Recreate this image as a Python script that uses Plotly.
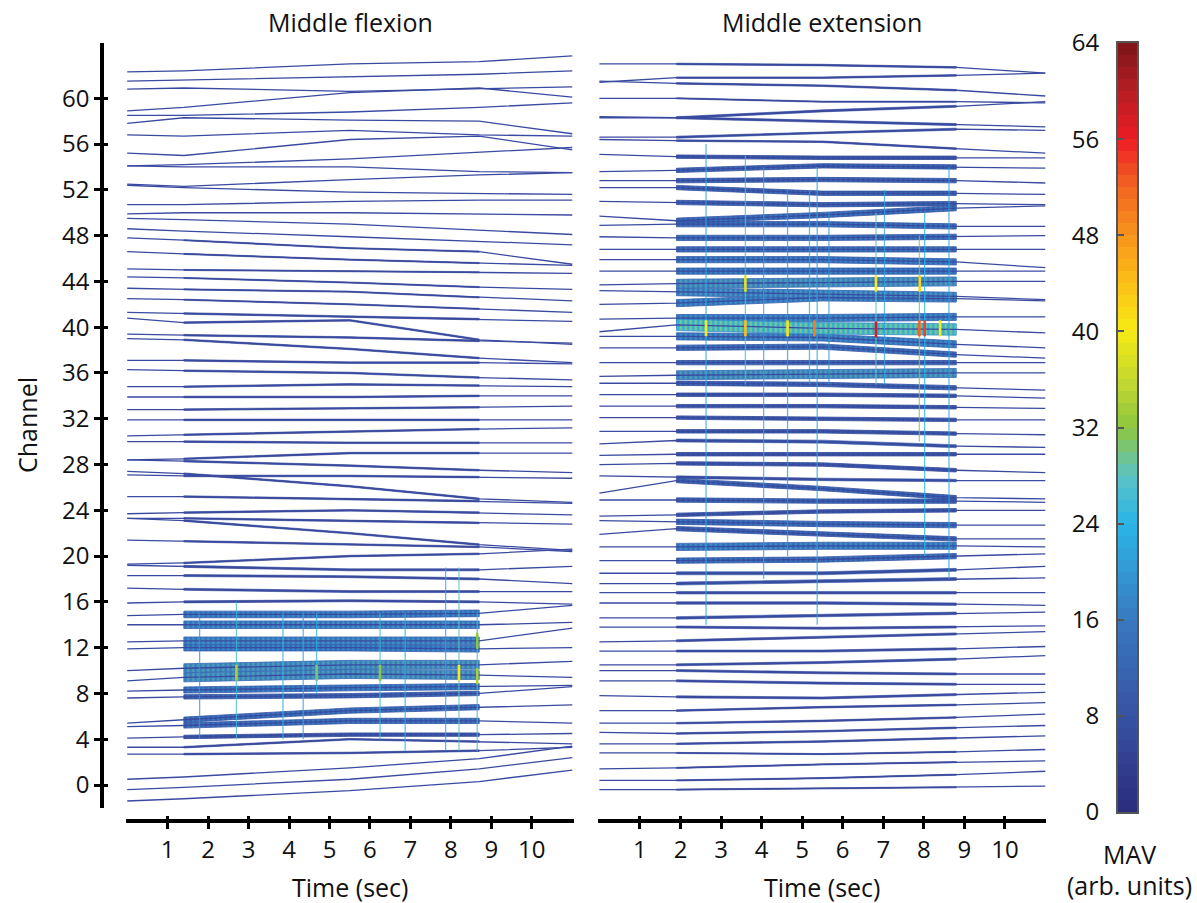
import plotly.graph_objects as go
from plotly.colors import sample_colorscale

W, H = 1197, 903

# ---------------- data ----------------
CHANNEL_TICKS = list(range(0, 61, 4))
TIME_TICKS = list(range(1, 11))
MAV_TICKS = list(range(0, 65, 8))
MAV_STEPS = [i + 0.5 for i in range(64)]

# Middle flexion: baseline of each trace at knot times (channel units), top to bottom
FLEX_KNOT_T = [0, 1.4, 5.5, 8.7, 11]
FLEX_BASE = [
    [62.3, 62.4, 63.0, 63.2, 63.7], [61.5, 61.6, 61.9, 62.1, 62.4], [60.8, 60.9, 60.6, 60.8, 61.0],
    [58.9, 59.2, 60.5, 60.9, 60.1], [58.5, 58.5, 58.8, 59.2, 59.6], [57.8, 58.3, 58.1, 58.0, 56.9],
    [56.8, 56.7, 57.2, 56.8, 56.7], [55.2, 55.0, 56.4, 56.7, 55.5], [54.1, 54.2, 54.7, 55.3, 55.7],
    [54.1, 54.0, 54.0, 53.6, 53.5], [52.5, 52.3, 52.9, 53.3, 53.5], [52.4, 52.2, 51.8, 51.7, 51.6],
    [50.7, 50.7, 51.0, 51.1, 51.1], [49.9, 50.0, 50.0, 49.9, 49.8], [49.5, 49.4, 49.0, 48.5, 48.1],
    [48.6, 48.4, 47.9, 47.5, 47.2], [47.8, 47.6, 46.9, 46.6, 45.5], [46.6, 46.4, 45.9, 45.6, 45.4],
    [45.1, 45.0, 44.9, 44.8, 44.7], [44.4, 44.3, 43.9, 43.5, 43.3], [43.4, 43.3, 43.1, 42.6, 42.3],
    [42.5, 42.4, 42.0, 41.6, 41.3], [41.3, 41.2, 40.9, 40.7, 40.5], [40.8, 40.4, 40.6, 38.9, 38.5],
    [39.4, 39.3, 39.1, 38.8, 38.6], [39.0, 38.9, 38.1, 37.3, 36.9], [37.1, 37.1, 36.9, 36.9, 36.8],
    [36.3, 36.2, 36.0, 35.6, 35.4], [34.8, 34.8, 35.0, 34.9, 34.8], [33.9, 33.9, 33.9, 34.0, 34.0],
    [32.8, 32.8, 32.9, 33.0, 33.1], [31.9, 31.9, 31.9, 31.9, 31.9], [30.5, 30.6, 30.9, 31.1, 31.2],
    [30.0, 30.0, 29.9, 29.9, 29.9], [28.4, 28.5, 29.0, 29.0, 29.0], [28.4, 28.3, 27.9, 27.5, 27.3],
    [27.4, 27.2, 26.1, 25.0, 24.7], [27.1, 27.0, 27.0, 26.9, 26.8], [25.2, 25.2, 25.0, 24.8, 24.6],
    [23.7, 23.8, 24.0, 23.8, 23.6], [23.3, 23.3, 23.1, 22.9, 22.8], [23.3, 23.1, 22.0, 21.0, 20.5],
    [21.4, 21.3, 21.0, 20.8, 20.4], [19.3, 19.4, 20.0, 20.2, 20.6], [19.2, 19.1, 18.8, 18.8, 19.1],
    [18.3, 18.3, 18.2, 18.0, 17.6], [17.2, 17.1, 16.9, 16.9, 16.9], [15.9, 16.0, 16.1, 16.0, 15.8],
    [14.8, 14.9, 14.9, 15.0, 15.7], [14.0, 14.0, 14.0, 14.0, 14.2], [12.5, 12.6, 12.6, 12.6, 13.7],
    [11.9, 12.0, 12.0, 11.9, 12.0], [10.0, 10.2, 10.5, 10.5, 10.8], [9.1, 9.4, 9.7, 9.6, 9.4],
    [8.2, 8.3, 8.5, 8.6, 8.7], [7.6, 7.7, 7.8, 8.0, 8.6], [5.4, 5.7, 6.5, 6.8, 7.0],
    [5.1, 5.2, 5.6, 5.6, 5.4], [4.1, 4.2, 4.4, 4.4, 4.5], [3.3, 3.3, 4.0, 3.8, 3.6],
    [2.7, 2.7, 2.8, 3.0, 3.3], [0.5, 0.7, 1.5, 2.3, 3.4], [-0.4, -0.2, 0.5, 1.4, 2.4],
    [-1.4, -1.2, -0.5, 0.3, 1.3],
]
FLEX_MAV = [
    2, 2, 2, 2, 2, 2, 2, 2, 2, 2, 2, 2, 2, 2, 2, 2,
    5, 5, 5, 5, 5, 5,
    6, 6, 6, 6, 6, 6, 6, 6, 6, 6,
    6, 6, 6, 6, 6, 6, 6, 6, 6, 6, 6, 6, 7, 7, 7, 7,
    17, 19, 19, 17, 22, 22, 16, 12, 14, 14, 10, 6, 6, 3, 3, 3,
]
FLEX_STRIPE_T = [1.79, 2.7, 3.85, 4.35, 4.68, 6.25, 6.87, 7.87, 8.2, 8.65]
FLEX_STRIPE_LO = [4, 4, 4, 4, 8, 4, 3, 3, 3, 3]
FLEX_STRIPE_HI = [15, 16, 15, 15, 15, 15, 15, 19, 19, 15]
FLEX_STRIPE_MAV = [20, 26, 24, 22, 24, 26, 24, 22, 28, 26]
FLEX_SPIKE_T = [2.7, 4.68, 6.25, 8.2, 8.65, 8.65]
FLEX_SPIKE_CH = [9.8, 9.8, 9.8, 9.8, 9.5, 12.6]
FLEX_SPIKE_MAV = [34, 30, 32, 40, 34, 32]

# Middle extension
EXT_KNOT_T = [0, 1.9, 5.5, 8.8, 11]
EXT_BASE = [
    [63.0, 63.0, 62.9, 62.7, 62.2], [61.4, 61.8, 61.8, 62.0, 62.2], [61.5, 61.3, 61.1, 60.7, 60.2],
    [60.0, 60.0, 59.7, 59.7, 59.6], [58.4, 58.3, 58.9, 59.3, 59.7], [58.3, 58.3, 58.0, 57.7, 57.5],
    [56.6, 56.6, 57.0, 57.3, 57.2], [56.4, 56.3, 56.2, 55.6, 55.2], [55.1, 54.9, 54.8, 54.8, 54.8],
    [53.6, 53.7, 54.1, 54.0, 53.9], [52.8, 52.8, 52.9, 52.8, 52.6], [52.2, 52.2, 51.7, 51.7, 51.6],
    [51.0, 50.9, 50.7, 50.8, 50.7], [49.7, 49.3, 49.8, 50.4, 50.6], [48.9, 49.0, 49.0, 48.8, 48.8],
    [47.9, 47.8, 47.8, 47.9, 48.0], [46.8, 46.8, 46.8, 46.8, 46.8], [45.9, 45.9, 45.9, 45.7, 45.2],
    [44.9, 44.9, 44.9, 44.9, 44.9], [43.7, 43.8, 43.9, 44.0, 44.0], [43.2, 43.1, 42.9, 42.7, 42.4],
    [42.0, 42.1, 42.6, 42.5, 42.3], [40.7, 40.8, 40.8, 40.9, 40.9], [39.6, 40.2, 39.9, 39.8, 39.5],
    [39.2, 39.2, 39.1, 38.5, 38.2], [38.2, 38.2, 38.3, 37.6, 37.3], [36.9, 36.9, 36.9, 36.9, 36.9],
    [35.7, 35.8, 35.9, 36.0, 36.0], [35.1, 35.1, 35.0, 34.7, 34.5], [34.1, 34.1, 34.1, 34.0, 33.8],
    [33.1, 33.1, 33.1, 33.0, 32.9], [32.1, 32.1, 32.0, 31.9, 31.9], [30.9, 30.9, 30.9, 30.7, 30.6],
    [29.8, 30.1, 30.0, 29.6, 29.5], [28.8, 28.9, 28.9, 28.9, 28.9], [28.0, 28.1, 28.0, 27.5, 27.3],
    [27.0, 26.9, 26.7, 26.6, 26.6], [25.5, 26.6, 25.9, 25.1, 25.0], [24.9, 24.9, 24.8, 24.8, 24.7],
    [23.5, 23.6, 23.9, 24.0, 24.0], [23.1, 23.0, 22.8, 22.7, 22.7], [21.9, 22.4, 21.9, 21.5, 21.5],
    [20.8, 20.8, 20.9, 20.9, 20.8], [19.6, 19.6, 19.7, 20.0, 20.2], [18.5, 18.5, 18.5, 18.8, 19.1],
    [17.6, 17.6, 17.8, 18.0, 18.1], [16.8, 16.8, 16.8, 16.8, 16.8], [15.9, 15.9, 15.9, 15.8, 15.7],
    [14.6, 14.6, 14.8, 15.0, 15.1], [13.8, 13.8, 13.7, 13.8, 13.9], [12.5, 12.6, 12.9, 13.2, 13.4],
    [11.7, 11.7, 11.7, 11.9, 12.1], [10.5, 10.5, 10.7, 11.0, 11.3], [10.0, 10.0, 9.8, 9.7, 9.7],
    [9.1, 9.1, 8.9, 8.8, 8.8], [7.8, 7.7, 7.6, 7.9, 8.1], [6.5, 6.5, 6.8, 7.0, 7.2],
    [5.4, 5.4, 5.6, 5.9, 6.2], [4.6, 4.5, 4.7, 5.0, 5.2], [3.6, 3.6, 3.8, 4.1, 4.3],
    [2.8, 2.8, 2.7, 2.9, 3.1], [1.4, 1.5, 1.8, 2.0, 2.1], [0.4, 0.4, 0.6, 0.9, 1.2],
    [-0.4, -0.4, -0.3, -0.2, -0.1],
]
EXT_MAV = [
    6, 6, 6, 5, 7, 7, 7, 6, 10, 12, 12, 12, 12, 14, 14, 14, 14, 16, 16, 22, 20, 18, 18, 31,
    18, 14, 12, 22, 12, 10, 10, 10, 10, 9, 10, 10, 8, 12, 12, 10, 14, 12, 18, 14, 9, 9,
    8, 8, 8, 7, 7, 7, 7, 7, 7, 7, 6, 6, 6, 6, 5, 5, 5, 5,
]
EXT_STRIPE_T = [2.63, 3.6, 4.05, 4.64, 5.18, 5.37, 5.66, 6.82, 7.03, 7.89, 8.02, 8.62]
EXT_STRIPE_LO = [14, 35, 18, 20, 35, 14, 35, 35, 35, 30, 20, 18]
EXT_STRIPE_HI = [56, 55, 54, 52, 52, 54, 50, 50, 52, 48, 50, 54]
EXT_STRIPE_MAV = [22, 26, 22, 20, 22, 22, 20, 28, 22, 30, 24, 22]
EXT_SPIKE_T = [2.63, 3.6, 4.64, 5.3, 6.82, 7.89, 8.02, 8.4, 3.6, 6.82, 7.9]
EXT_SPIKE_CH = [39.9, 39.9, 39.9, 39.9, 39.8, 39.9, 39.9, 39.9, 43.8, 43.8, 43.8]
EXT_SPIKE_MAV = [40, 44, 40, 50, 58, 52, 54, 40, 38, 40, 42]

# ---------------- style ----------------
MAV_MAX = 64
COLORSCALE = [
    [0.000, "#2b2c7c"], [0.125, "#3752a3"], [0.250, "#3978bf"], [0.3125, "#3398d5"],
    [0.375, "#2ab4e6"], [0.4375, "#5cc3c4"], [0.500, "#8dc63f"], [0.5625, "#c6d92e"],
    [0.625, "#f6eb14"], [0.6875, "#fbbf16"], [0.750, "#f7941d"], [0.8125, "#f26522"],
    [0.875, "#ed1c24"], [0.9375, "#b51e23"], [1.000, "#7b1518"],
]
LINE_COLOR = "#3a4aa0"
FONT = "Open Sans"


def mav_color(v):
    return sample_colorscale(COLORSCALE, [max(0.0, min(1.0, v / MAV_MAX))])[0]


def amp(v):
    return min(0.5, max(0.03, 0.02 * v - 0.05))


fig = go.Figure()


def draw_panel(xa, ya, knot_t, base, mav, st_t, st_lo, st_hi, st_m, sp_t, sp_ch, sp_m):
    # active envelopes, grouped by level
    groups = {}
    for b, m in zip(base, mav):
        if m < 5:
            continue
        a = amp(m)
        xs = [knot_t[1], knot_t[2], knot_t[3], knot_t[3], knot_t[2], knot_t[1], knot_t[1], None]
        ys = [b[1] + a, b[2] + a, b[3] + a, b[3] - a, b[2] - a, b[1] - a, b[1] + a, None]
        g = groups.setdefault(round(m), ([], []))
        g[0].extend(xs)
        g[1].extend(ys)
    for m, (xs, ys) in sorted(groups.items()):
        if m >= 10:
            bg = mav_color(m * 0.75)
            fg = mav_color(m + 7)
            fig.add_trace(go.Scatter(
                x=xs, y=ys, xaxis=xa, yaxis=ya, mode="lines", fill="toself", fillcolor=bg,
                fillpattern=dict(shape="|", fgcolor=fg, bgcolor=bg, size=5, solidity=0.45),
                line=dict(width=0.8, color=mav_color(m * 0.6)),
                hoverinfo="skip", showlegend=False))
        else:
            c = mav_color(m)
            fig.add_trace(go.Scatter(
                x=xs, y=ys, xaxis=xa, yaxis=ya, mode="lines", fill="toself", fillcolor=c,
                line=dict(width=0.6, color=c), hoverinfo="skip", showlegend=False))
    # baselines
    xs, ys = [], []
    for b in base:
        xs.extend(knot_t + [None])
        ys.extend(list(b) + [None])
    fig.add_trace(go.Scatter(x=xs, y=ys, xaxis=xa, yaxis=ya, mode="lines",
                             line=dict(color=LINE_COLOR, width=1.3), hoverinfo="skip", showlegend=False))
    # vertical stripes of synchronous activity
    for t, lo, hi, m in zip(st_t, st_lo, st_hi, st_m):
        fig.add_trace(go.Scatter(x=[t, t], y=[lo, hi], xaxis=xa, yaxis=ya, mode="lines",
                                 line=dict(color=mav_color(m), width=1.3), opacity=0.75,
                                 hoverinfo="skip", showlegend=False))
    # strong local spikes
    for t, c, m in zip(sp_t, sp_ch, sp_m):
        fig.add_trace(go.Scatter(x=[t, t], y=[c - 0.7, c + 0.7], xaxis=xa, yaxis=ya, mode="lines",
                                 line=dict(color=mav_color(m), width=2.6),
                                 hoverinfo="skip", showlegend=False))


draw_panel("x", "y", FLEX_KNOT_T, FLEX_BASE, FLEX_MAV, FLEX_STRIPE_T, FLEX_STRIPE_LO,
           FLEX_STRIPE_HI, FLEX_STRIPE_MAV, FLEX_SPIKE_T, FLEX_SPIKE_CH, FLEX_SPIKE_MAV)
draw_panel("x2", "y2", EXT_KNOT_T, EXT_BASE, EXT_MAV, EXT_STRIPE_T, EXT_STRIPE_LO,
           EXT_STRIPE_HI, EXT_STRIPE_MAV, EXT_SPIKE_T, EXT_SPIKE_CH, EXT_SPIKE_MAV)

# colour bar as a stepped heat map
fig.add_trace(go.Heatmap(z=[[v] for v in MAV_STEPS], y=MAV_STEPS, x=[0], xaxis="x3", yaxis="y3",
                         colorscale=COLORSCALE, zmin=0, zmax=MAV_MAX, showscale=False, hoverinfo="skip"))

# helper traces for the inward half of the crossing tick marks
fig.add_trace(go.Scatter(x=[None], y=[None], xaxis="x", yaxis="y4", showlegend=False, hoverinfo="skip"))
fig.add_trace(go.Scatter(x=[None], y=[None], xaxis="x4", yaxis="y", showlegend=False, hoverinfo="skip"))
fig.add_trace(go.Scatter(x=[None], y=[None], xaxis="x5", yaxis="y2", showlegend=False, hoverinfo="skip"))


def px_x(p):
    return p / W


def px_y(p):
    return 1 - p / H


Y_RANGE = [-2.01, 64.83]
Y_DOMAIN = [px_y(808), px_y(43)]
X1_DOMAIN = [px_x(125.7), px_x(573.5)]
X1_RANGE = [-0.037, 11.03]
X2_DOMAIN = [px_x(598.3), px_x(1045.5)]
X2_RANGE = [-0.027, 11.0]
AX_POS_Y = px_y(821)
AX_POS_X = px_x(102.3)
tick_font = dict(family=FONT, size=24, color="#111")

common_x = dict(anchor="free", position=AX_POS_Y, showgrid=False, zeroline=False, showline=True,
                linecolor="black", linewidth=4, ticks="outside", ticklen=6, tickwidth=3,
                tickcolor="black", tickvals=TIME_TICKS, tickfont=tick_font, automargin=False)
inner_tick = dict(anchor="free", showgrid=False, zeroline=False, showline=False, ticks="inside",
                  ticklen=5, tickwidth=3, tickcolor="black", showticklabels=False, automargin=False)

fig.update_layout(
    width=W, height=H, margin=dict(l=0, r=0, t=0, b=0, autoexpand=False),
    paper_bgcolor="white", plot_bgcolor="rgba(0,0,0,0)", showlegend=False,
    xaxis=dict(domain=X1_DOMAIN, range=X1_RANGE, **common_x),
    xaxis2=dict(domain=X2_DOMAIN, range=X2_RANGE, **common_x),
    xaxis4=dict(domain=X1_DOMAIN, range=X1_RANGE, overlaying="x", position=AX_POS_Y,
                tickvals=TIME_TICKS, **inner_tick),
    xaxis5=dict(domain=X2_DOMAIN, range=X2_RANGE, overlaying="x2", position=AX_POS_Y,
                tickvals=TIME_TICKS, **inner_tick),
    yaxis=dict(domain=Y_DOMAIN, range=Y_RANGE, anchor="free", position=AX_POS_X, showgrid=False,
               zeroline=False, showline=True, linecolor="black", linewidth=4, ticks="outside",
               ticklen=6, tickwidth=3, tickcolor="black", tickvals=CHANNEL_TICKS, tickfont=tick_font,
               automargin=False),
    yaxis4=dict(domain=Y_DOMAIN, range=Y_RANGE, overlaying="y", position=AX_POS_X,
                tickvals=CHANNEL_TICKS, **inner_tick),
    yaxis2=dict(domain=Y_DOMAIN, range=Y_RANGE, anchor="x2", visible=False, automargin=False),
    xaxis3=dict(domain=[px_x(1118), px_x(1137)], range=[-0.5, 0.5], anchor="y3", showgrid=False,
                zeroline=False, showline=True, mirror=True, linecolor="#555", linewidth=2,
                showticklabels=False, ticks="", automargin=False),
    yaxis3=dict(domain=[px_y(812), px_y(43)], range=[0, MAV_MAX], anchor="x3", side="left",
                showgrid=False, zeroline=False, showline=True, mirror=True, linecolor="#555",
                linewidth=2, ticks="inside", ticklen=6, tickwidth=2, tickcolor="#555",
                tickvals=MAV_TICKS, tickfont=tick_font, ticklabelstandoff=12, automargin=False),
)

ann_font = dict(family=FONT, size=25, color="#111")
for text, x, y, rot in [
    ("Middle flexion", 350, 22, 0), ("Middle extension", 822, 22, 0),
    ("Time (sec)", 350, 887, 0), ("Time (sec)", 822, 887, 0),
    ("Channel", 27, 425, -90), ("MAV", 1129, 854, 0), ("(arb. units)", 1129, 885, 0),
]:
    fig.add_annotation(text=text, x=px_x(x), y=px_y(y), xref="paper", yref="paper",
                       xanchor="center", yanchor="middle", showarrow=False, textangle=rot,
                       font=ann_font)

fig.write_html("out.html")
